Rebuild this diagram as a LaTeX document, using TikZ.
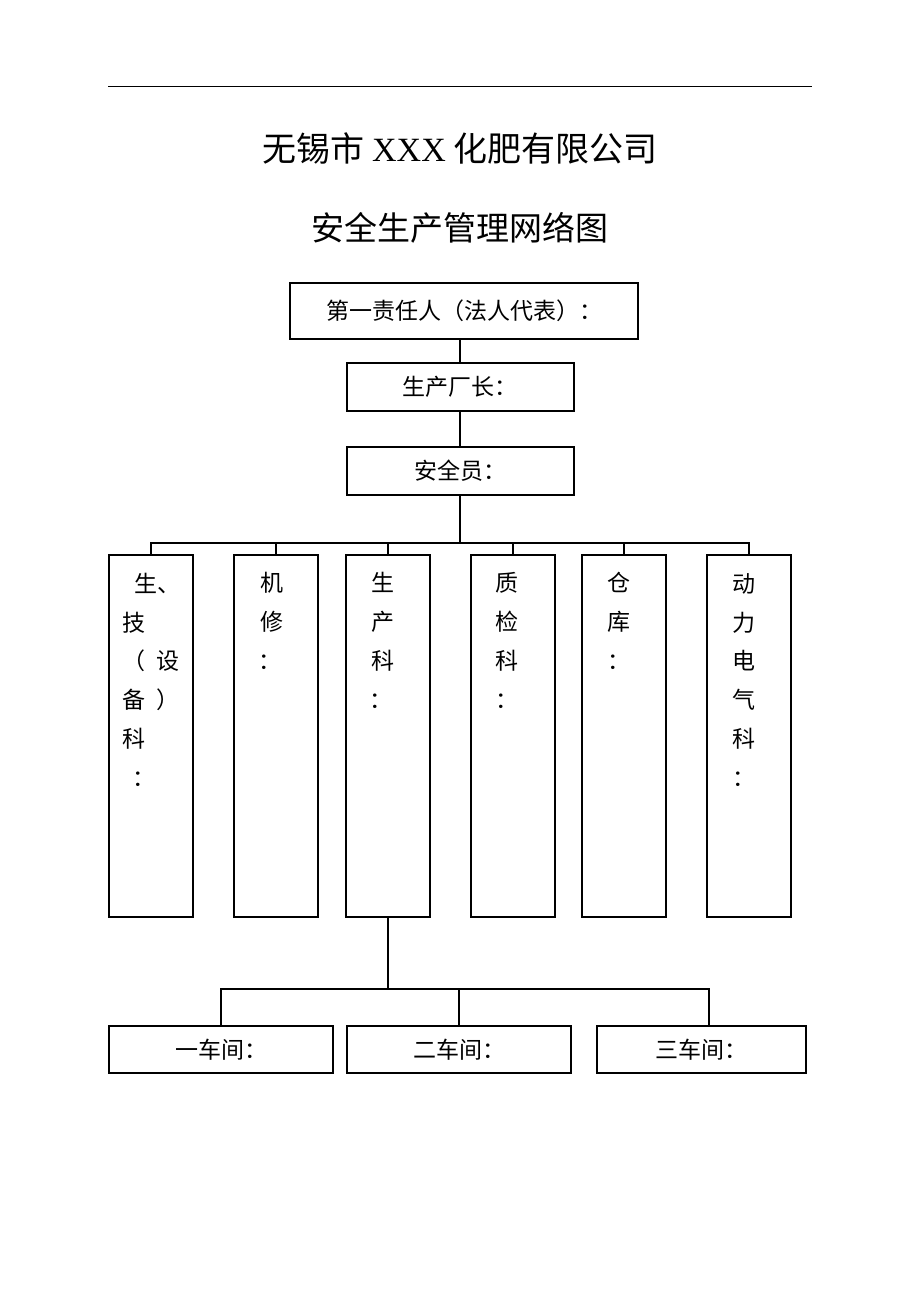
\documentclass[tikz,border=0pt]{standalone}
\usepackage{fontspec}
\setmainfont{Liberation Serif}
\newfontfamily\cjk{Noto Sans CJK SC}
\usetikzlibrary{calc}
\begin{document}
\begin{tikzpicture}[x=1pt,y=-1pt,
  box/.style={draw, line width=2pt, inner sep=0pt, font=\cjk\fontsize{23}{27}\selectfont},
  tall/.style={draw, line width=2pt, minimum width=84pt, minimum height=362pt, inner sep=0pt},
  vtext/.style={anchor=base west, inner sep=0pt, align=left, font=\cjk\fontsize{23}{38.7}\selectfont},
  title/.style={inner sep=0pt, font=\cjk\fontsize{33}{40}\selectfont},
  link/.style={line width=2pt}]
\path[use as bounding box, fill=white] (0,0) rectangle (920,1302);
\coordinate (r1) at (108,86);
\coordinate (r2) at (812,86);
\draw[line width=1pt] (r1) -- (r2);
\node[title, font=\cjk\fontsize{34}{40}\selectfont] (t1) at (460,148) {无锡市 {\rmfamily XXX} 化肥有限公司};
\node[title] (t2) at (460,228) {安全生产管理网络图};
% top chain
\node[box, minimum width=348pt, minimum height=56pt] (n1) at (464,311) {第一责任人（法人代表）：};
\node[box, minimum width=227pt, minimum height=48pt] (n2) at (460,387) {生产厂长：};
\node[box, minimum width=227pt, minimum height=48pt] (n3) at (460,471) {安全员：};
% tall boxes
\node[tall] (ta) at (151,736) {};
\node[tall] (tb) at (276,736) {};
\node[tall] (tc) at (388,736) {};
\node[tall] (td) at (513,736) {};
\node[tall] (te) at (624,736) {};
\node[tall] (tf) at (749,736) {};
\node[vtext] (xa) at (122,786) {\hspace*{12pt}生、\\技\\（\hspace*{11pt}设\\备\hspace*{11pt}）\\科\\\hspace*{10pt}：};
\node[vtext] (xb) at (260,669) {机\\修\\\hspace*{-2pt}：};
\node[vtext] (xc) at (371,708) {生\\产\\科\\\hspace*{-2pt}：};
\node[vtext] (xd) at (495,708) {质\\检\\科\\：};
\node[vtext] (xe) at (607,669) {仓\\库\\：};
\node[vtext] (xf) at (732,786) {动\\力\\电\\气\\科\\：};
% workshops
\node[box, minimum width=224pt, minimum height=47pt] (w1) at (221,1049.5) {一车间：};
\node[box, minimum width=224pt, minimum height=47pt] (w2) at (459,1049.5) {二车间：};
\node[box, minimum width=209pt, minimum height=47pt] (w3) at (701.5,1049.5) {三车间：};
% connectors
\coordinate (bus) at (460,543);
\coordinate (bustwo) at (460,989);
\coordinate (wthree) at ($(w3.north)+(7,0)$);
\draw[link] (n1.south -| n2.north) -- (n2.north);
\draw[link] (n2.south) -- (n3.north);
\draw[link] (n3.south) -- (bus);
\draw[link] (ta.north) |- (tf.north |- bus) -- (tf.north);
\foreach \t in {tb,tc,td,te} \draw[link] (\t.north) -- (\t.north |- bus);
\draw[link] (tc.south) -- (tc.south |- bustwo);
\draw[link] (w1.north) |- (wthree |- bustwo) -- (wthree);
\draw[link] (w2.north) -- (w2.north |- bustwo);
\end{tikzpicture}
\end{document}
